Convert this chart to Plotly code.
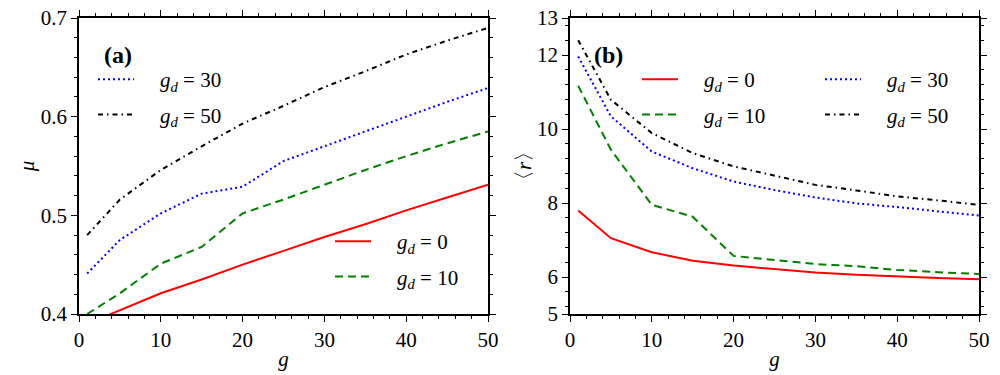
import plotly.graph_objects as go

g = [1, 5, 10, 15, 20, 25, 30, 35, 40, 45, 50]

mu_gd0 = [0.390, 0.404, 0.421, 0.435, 0.450, 0.464, 0.478, 0.491, 0.505, 0.518, 0.531]
mu_gd10 = [0.400, 0.421, 0.451, 0.468, 0.502, 0.516, 0.531, 0.546, 0.560, 0.573, 0.585]
mu_gd30 = [0.441, 0.475, 0.502, 0.522, 0.529, 0.555, 0.570, 0.585, 0.600, 0.615, 0.629]
mu_gd50 = [0.480, 0.516, 0.546, 0.570, 0.593, 0.611, 0.630, 0.646, 0.663, 0.677, 0.690]

r_gd0 = [7.80, 7.05, 6.67, 6.44, 6.31, 6.22, 6.12, 6.06, 6.01, 5.97, 5.94]
r_gd10 = [11.17, 9.44, 7.95, 7.63, 6.57, 6.46, 6.35, 6.29, 6.19, 6.13, 6.08]
r_gd30 = [11.96, 10.34, 9.39, 8.94, 8.58, 8.35, 8.15, 7.99, 7.89, 7.78, 7.66]
r_gd50 = [12.40, 10.79, 9.89, 9.35, 8.99, 8.73, 8.49, 8.34, 8.18, 8.07, 7.95]

x_ticks = [0, 10, 20, 30, 40, 50]
mu_ticks = [0.4, 0.5, 0.6, 0.7]
r_ticks = [5, 6, 8, 10, 12, 13]

FONT = "Liberation Serif, Times New Roman, DejaVu Serif, serif"
FS = 21

W, H, OFF = 1000, 375, 0


def px(x):
    return (x - OFF) / W


def py(y):
    return 1 - (y - OFF) / H


styles = {
    "gd0": dict(color="#ff0000", width=2, dash="solid"),
    "gd10": dict(color="#007f00", width=2, dash="8px,5px"),
    "gd30": dict(color="#0000ff", width=2, dash="2px,3px"),
    "gd50": dict(color="#000000", width=2, dash="5px,4px,1.5px,4px"),
}
NB = "\u00a0\u00a0\u00a0\u00a0"
labels = {
    "gd0": NB + "<i>g</i><sub><i>d</i></sub> = 0",
    "gd10": NB + "<i>g</i><sub><i>d</i></sub> = 10",
    "gd30": NB + "<i>g</i><sub><i>d</i></sub> = 30",
    "gd50": NB + "<i>g</i><sub><i>d</i></sub> = 50",
}

fig = go.Figure()

left = [("gd0", mu_gd0, "legend2"), ("gd10", mu_gd10, "legend2"),
        ("gd30", mu_gd30, "legend"), ("gd50", mu_gd50, "legend")]
for key, ys, lg in left:
    fig.add_trace(go.Scatter(x=g, y=ys, mode="lines", line=styles[key], name=labels[key],
                             xaxis="x", yaxis="y", legend=lg, legendgroup="a" + key))

right = [("gd0", r_gd0, "legend3"), ("gd10", r_gd10, "legend3"),
         ("gd30", r_gd30, "legend4"), ("gd50", r_gd50, "legend4")]
for key, ys, lg in right:
    fig.add_trace(go.Scatter(x=g, y=ys, mode="lines", line=styles[key], name=labels[key],
                             xaxis="x2", yaxis="y2", legend=lg, legendgroup="b" + key))

ydom = [py(314), py(18)]
xdom1 = [px(79), px(488)]
xdom2 = [px(570), px(979)]


def xax(dom, anchor, title):
    return dict(domain=dom, anchor=anchor, range=[0, 50], tickvals=x_ticks,
                ticks="outside", ticklen=6, tickwidth=1.2, tickcolor="black",
                mirror="ticks", showline=True, linecolor="black", linewidth=1.5,
                showgrid=False, zeroline=False, automargin=False, ticklabeloverflow="allow",
                minor=dict(dtick=2, tick0=0, ticks="outside", ticklen=3, tickcolor="black", showgrid=False),
                tickfont=dict(family=FONT, size=FS, color="black"),
                title=dict(text=title, font=dict(family=FONT, size=FS, color="black"), standoff=0))


def yax(dom, anchor, rng, tv, minor_dtick, title, tick0):
    return dict(domain=dom, anchor=anchor, range=rng, tickvals=tv,
                ticks="outside", ticklen=6, tickwidth=1.2, tickcolor="black",
                mirror="ticks", showline=True, linecolor="black", linewidth=1.5,
                showgrid=False, zeroline=False, automargin=False, ticklabeloverflow="allow",
                minor=dict(dtick=minor_dtick, tick0=tick0, ticks="outside", ticklen=3, tickcolor="black", showgrid=False),
                tickfont=dict(family=FONT, size=FS, color="black"),
                title=dict(text=title, font=dict(family=FONT, size=FS, color="black"), standoff=0))


def inner(dom, anchor, overlay, rng, tv):
    # inward half of the major ticks (reference ticks cross the frame)
    return dict(domain=dom, anchor=anchor, overlaying=overlay, range=rng, tickvals=tv,
                ticks="inside", ticklen=5, tickwidth=1.2, tickcolor="black",
                mirror="ticks", showline=False, showticklabels=False,
                showgrid=False, zeroline=False, automargin=False)


legbase = dict(bgcolor="rgba(0,0,0,0)", font=dict(family=FONT, size=FS, color="black"),
               tracegroupgap=5, itemwidth=36, xanchor="left", yanchor="top")

fig.update_layout(
    width=W, height=H,
    margin=dict(l=0, r=0, t=0, b=0),
    paper_bgcolor="white", plot_bgcolor="white",
    xaxis=xax(xdom1, "y", "<i>g</i>"),
    yaxis=yax(ydom, "x", [0.4, 0.7], mu_ticks, 0.02, "<i>μ</i>", 0),
    xaxis2=xax(xdom2, "y2", "<i>g</i>"),
    yaxis2=yax(ydom, "x2", [5, 13], r_ticks, 0.4, "〈<i>r</i>〉", 0),
    xaxis3=inner(xdom1, "y", "x", [0, 50], x_ticks),
    yaxis3=inner(ydom, "x", "y", [0.4, 0.7], mu_ticks),
    xaxis4=inner(xdom2, "y2", "x2", [0, 50], x_ticks),
    yaxis4=inner(ydom, "x2", "y2", [5, 13], r_ticks),
    legend=dict(legbase, x=px(93), y=py(59)),
    legend2=dict(legbase, x=px(330), y=py(221)),
    legend3=dict(legbase, x=px(637), y=py(59)),
    legend4=dict(legbase, x=px(820), y=py(59)),
    annotations=[
        dict(text="<b>(a)</b>", x=px(102), y=py(55), xref="paper", yref="paper",
             xanchor="left", yanchor="middle", showarrow=False,
             font=dict(family=FONT, size=24, color="black")),
        dict(text="<b>(b)</b>", x=px(592), y=py(55), xref="paper", yref="paper",
             xanchor="left", yanchor="middle", showarrow=False,
             font=dict(family=FONT, size=24, color="black")),
    ],
)

fig.write_html("out.html", config={"displayModeBar": False},
               post_script="document.body.style.margin='0px';")
